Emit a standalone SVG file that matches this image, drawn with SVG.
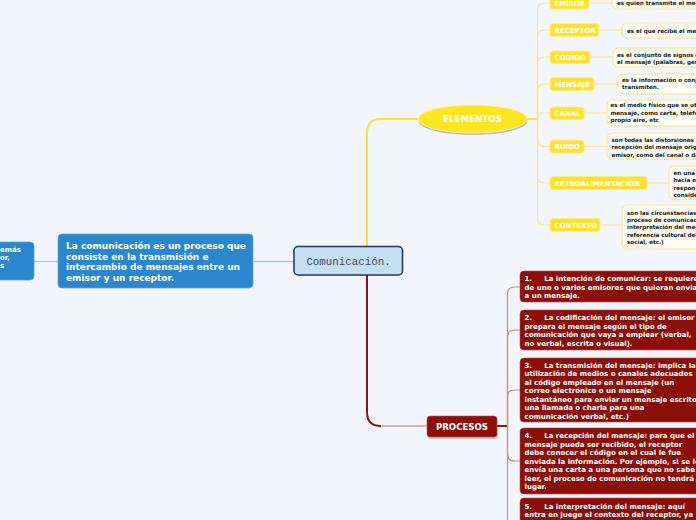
<svg xmlns="http://www.w3.org/2000/svg" width="696" height="520" viewBox="0 0 696 520">
<style>
.bg{fill:#f2f5fc}
.blue{fill:#2b87cd;stroke:#5aa3dc;stroke-width:0.8}
.btxt{font-family:"DejaVu Sans",Verdana,sans-serif;font-weight:bold;fill:#fff}
.lbl{fill:#ffe12b;stroke:#fcec8c;stroke-width:1}
.ltxt{font-family:"DejaVu Sans",Verdana,sans-serif;font-weight:bold;font-size:7px;fill:#fff}
.desc{fill:#fbfbf1;stroke:#f8e58c;stroke-width:1}
.dtxt{font-family:"DejaVu Sans",Verdana,sans-serif;font-weight:bold;font-size:5.6px;fill:#222}
.proc{fill:#8b0e09;stroke:#b94a4a;stroke-width:0.6}
.ptxt{font-family:"DejaVu Sans",Verdana,sans-serif;font-weight:bold;font-size:7px;fill:#fff}
.ylw{fill:none;stroke:#fbe88e;stroke-width:1.2}
.red{fill:none;stroke:#cf8a8a;stroke-width:1.2}
</style>
<rect class="bg" x="0" y="0" width="696" height="520"/>

<g id="connectors">
  <line x1="34" y1="261.5" x2="58" y2="261.5" stroke="#a8c8e8" stroke-width="1.3"/>
  <line x1="253" y1="261.5" x2="294" y2="261.5" stroke="#a8c8e8" stroke-width="1.3"/>
  <path d="M367 247 V133 Q367 119 381 119 H418" fill="none" stroke="#fde12b" stroke-width="2"/>
  <line x1="527" y1="119" x2="538" y2="119" stroke="#fde12b" stroke-width="2"/>
  <path class="ylw" d="M537.5 119 V10 Q537.5 3 544.5 3 H550"/>
  <path class="ylw" d="M537.5 119 V37 Q537.5 30 544.5 30 H550"/>
  <path class="ylw" d="M537.5 119 V64 Q537.5 57 544.5 57 H550"/>
  <path class="ylw" d="M537.5 119 V91 Q537.5 84 544.5 84 H550"/>
  <path class="ylw" d="M537.5 119 V117 Q537.5 113 541.5 113 H550"/>
  <path class="ylw" d="M537.5 119 V139.5 Q537.5 146.5 544.5 146.5 H550"/>
  <path class="ylw" d="M537.5 119 V176 Q537.5 183 544.5 183 H550"/>
  <path class="ylw" d="M537.5 119 V218 Q537.5 225 544.5 225 H550"/>
  <line class="ylw" x1="589" y1="3" x2="612" y2="3"/>
  <line class="ylw" x1="599" y1="30" x2="622" y2="30"/>
  <line class="ylw" x1="590" y1="57" x2="613" y2="57"/>
  <line class="ylw" x1="594" y1="84" x2="618" y2="84"/>
  <line class="ylw" x1="584" y1="113" x2="607" y2="113"/>
  <line class="ylw" x1="584" y1="146.5" x2="607" y2="146.5"/>
  <line class="ylw" x1="647" y1="183" x2="669" y2="183"/>
  <line class="ylw" x1="600" y1="225" x2="622" y2="225"/>
  <path d="M367 275 V412 Q367 426 381 426" fill="none" stroke="#8b1414" stroke-width="2"/>
  <line x1="381" y1="426" x2="427" y2="426" stroke="#d49a9a" stroke-width="1.3"/>
  <line x1="497" y1="426" x2="508" y2="426" stroke="#8b1414" stroke-width="2"/>
  <path class="red" d="M507.5 426 V294 Q507.5 287 514.5 287 H520"/>
  <path class="red" d="M507.5 426 V337 Q507.5 330 514.5 330 H520"/>
  <path class="red" d="M507.5 426 V397 Q507.5 390 514.5 390 H520"/>
  <path class="red" d="M507.5 426 V454 Q507.5 461 514.5 461 H520"/>
  <path class="red" d="M507.5 426 V520"/>
</g>

<g id="node-left">
  <rect class="blue" x="-10" y="242" width="44" height="38" rx="4"/>
  <text class="btxt" font-size="7px" x="0" y="252">emás</text>
  <text class="btxt" font-size="7px" x="0" y="260">or,</text>
  <text class="btxt" font-size="7px" x="0" y="268">s</text>
</g>

<g id="node-definicion">
  <rect class="blue" x="58" y="234" width="195" height="54" rx="4"/>
  <text class="btxt" font-size="9px" x="66" y="249">La comunicación es un proceso que</text>
  <text class="btxt" font-size="9px" x="66" y="259.5">consiste en la transmisión e</text>
  <text class="btxt" font-size="9px" x="66" y="270">intercambio de mensajes entre un</text>
  <text class="btxt" font-size="9px" x="66" y="280.5">emisor y un receptor.</text>
</g>

<g id="node-comunicacion">
  <rect x="294" y="246.5" width="108.5" height="28.5" rx="4" fill="#c5dff2" stroke="#1f3658" stroke-width="1.5"/>
  <text x="348.5" y="264.5" text-anchor="middle" font-family="'Liberation Mono','Courier New',monospace" font-size="10.8px" fill="#3c4a5c">Comunicación.</text>
</g>

<g id="node-elementos">
  <ellipse cx="473" cy="121" rx="54.5" ry="14" fill="#9a9a9a" opacity="0.6"/>
  <ellipse cx="472.5" cy="119" rx="54.5" ry="14" fill="#fde51f" stroke="#fff6a8" stroke-width="0.8"/>
  <text x="472.5" y="122" text-anchor="middle" class="btxt" font-size="8.7px">ELEMENTOS</text>
</g>

<g id="node-emisor">
  <rect class="lbl" x="550" y="-3" width="39" height="12" rx="3"/>
  <text class="ltxt" x="554.5" y="6">EMISOR</text>
  <rect class="desc" x="612" y="-6" width="100" height="15" rx="5"/>
  <text class="dtxt" x="617" y="5">es quien transmite el mensaje</text>
</g>
<g id="node-receptor">
  <rect class="lbl" x="550" y="23.5" width="49" height="13" rx="3"/>
  <text class="ltxt" x="554.5" y="32.5">RECEPTOR</text>
  <rect class="desc" x="622" y="23" width="90" height="15" rx="5"/>
  <text class="dtxt" x="627" y="32.5">es el que recibe el mensaje</text>
</g>
<g id="node-codigo">
  <rect class="lbl" x="550" y="51" width="40" height="12.5" rx="3"/>
  <text class="ltxt" x="554.5" y="60">CODIGO</text>
  <rect class="desc" x="613" y="48" width="100" height="19" rx="5"/>
  <text class="dtxt" x="617" y="56.5">es el conjunto de signos con</text>
  <text class="dtxt" x="617" y="63.5">el mensaje (palabras, gestos</text>
</g>
<g id="node-mensaje">
  <rect class="lbl" x="550" y="77.5" width="44" height="13" rx="3"/>
  <text class="ltxt" x="554.5" y="86.5">MENSAJE</text>
  <rect class="desc" x="618" y="74" width="95" height="20" rx="5"/>
  <text class="dtxt" x="622" y="82">es la información o conjunto</text>
  <text class="dtxt" x="622" y="89">transmiten.</text>
</g>
<g id="node-canal">
  <rect class="lbl" x="550" y="107" width="34" height="12.5" rx="3"/>
  <text class="ltxt" x="554.5" y="116">CANAL</text>
  <rect class="desc" x="607" y="100" width="100" height="26" rx="5"/>
  <text class="dtxt" x="610.5" y="107">es el medio físico que se utiliza</text>
  <text class="dtxt" x="610.5" y="114.5">mensaje, como carta, teléfono</text>
  <text class="dtxt" x="610.5" y="122">propio aire, etc</text>
</g>
<g id="node-ruido">
  <rect class="lbl" x="550" y="140" width="34" height="13" rx="3"/>
  <text class="ltxt" x="554.5" y="149">RUIDO</text>
  <rect class="desc" x="607" y="133" width="100" height="26" rx="5"/>
  <text class="dtxt" x="611.5" y="141.5">son todas las distorsiones que</text>
  <text class="dtxt" x="611.5" y="149">recepción del mensaje original</text>
  <text class="dtxt" x="611.5" y="156.5">emisor, como del canal o del</text>
</g>
<g id="node-retroalimentacion">
  <rect class="lbl" x="550" y="176.5" width="97" height="13" rx="3"/>
  <text class="ltxt" x="554.5" y="185.5">RETROALIMENTACIÓN</text>
  <rect class="desc" x="669" y="166" width="40" height="33" rx="5"/>
  <text class="dtxt" x="673.5" y="174.5">en una</text>
  <text class="dtxt" x="673.5" y="182">hacia el</text>
  <text class="dtxt" x="673.5" y="189.5">respon</text>
  <text class="dtxt" x="673.5" y="197">conside</text>
</g>
<g id="node-contexto">
  <rect class="lbl" x="550" y="218.5" width="50" height="13" rx="3"/>
  <text class="ltxt" x="554.5" y="227.5">CONTEXTO</text>
  <rect class="desc" x="622" y="205" width="90" height="44" rx="5"/>
  <text class="dtxt" x="627" y="214.5">son las circunstancias</text>
  <text class="dtxt" x="627" y="221.5">proceso de comunicación</text>
  <text class="dtxt" x="627" y="229">interpretación del mensaje</text>
  <text class="dtxt" x="627" y="236.5">referencia cultural del</text>
  <text class="dtxt" x="627" y="243.5">social, etc.)</text>
</g>

<g id="node-procesos">
  <rect x="428" y="418" width="70" height="21" rx="3" fill="#9a9a9a" opacity="0.5"/>
  <rect x="427" y="416" width="70" height="21" rx="3" fill="#8b0e09" stroke="#c25858" stroke-width="0.6"/>
  <text x="462" y="429.5" text-anchor="middle" class="btxt" font-size="8.6px">PROCESOS</text>
</g>

<g id="node-proc1">
  <rect class="proc" x="520" y="271" width="200" height="31" rx="4"/>
  <text class="ptxt" x="524.5" y="281" xml:space="preserve">1.     La intención de comunicar: se requiere</text>
  <text class="ptxt" x="524.5" y="289.5">de uno o varios emisores que quieran enviar</text>
  <text class="ptxt" x="524.5" y="298">a un mensaje.</text>
</g>
<g id="node-proc2">
  <rect class="proc" x="520" y="310" width="200" height="40" rx="4"/>
  <text class="ptxt" x="524.5" y="320" xml:space="preserve">2.     La codificación del mensaje: el emisor</text>
  <text class="ptxt" x="524.5" y="328.5">prepara el mensaje según el tipo de</text>
  <text class="ptxt" x="524.5" y="337">comunicación que vaya a emplear (verbal,</text>
  <text class="ptxt" x="524.5" y="345.5">no verbal, escrita o visual).</text>
</g>
<g id="node-proc3">
  <rect class="proc" x="520" y="358" width="200" height="64" rx="4"/>
  <text class="ptxt" x="524.5" y="367.5" xml:space="preserve">3.     La transmisión del mensaje: implica la</text>
  <text class="ptxt" x="524.5" y="376">utilización de medios o canales adecuados</text>
  <text class="ptxt" x="524.5" y="384.5">al código empleado en el mensaje (un</text>
  <text class="ptxt" x="524.5" y="393">correo electrónico o un mensaje</text>
  <text class="ptxt" x="524.5" y="401.5">instantáneo para enviar un mensaje escrito o</text>
  <text class="ptxt" x="524.5" y="410">una llamada o charla para una</text>
  <text class="ptxt" x="524.5" y="418.5">comunicación verbal, etc.)</text>
</g>
<g id="node-proc4">
  <rect class="proc" x="520" y="428" width="200" height="66" rx="4"/>
  <text class="ptxt" x="524.5" y="438" xml:space="preserve">4.     La recepción del mensaje: para que el</text>
  <text class="ptxt" x="524.5" y="446.5">mensaje pueda ser recibido, el receptor</text>
  <text class="ptxt" x="524.5" y="455">debe conocer el código en el cual le fue</text>
  <text class="ptxt" x="524.5" y="463.5">enviada la información. Por ejemplo, si se le</text>
  <text class="ptxt" x="524.5" y="472">envía una carta a una persona que no sabe</text>
  <text class="ptxt" x="524.5" y="480.5">leer, el proceso de comunicación no tendrá</text>
  <text class="ptxt" x="524.5" y="489">lugar.</text>
</g>
<g id="node-proc5">
  <rect class="proc" x="520" y="498" width="200" height="40" rx="4"/>
  <text class="ptxt" x="524.5" y="508.5" xml:space="preserve">5.     La interpretación del mensaje: aquí</text>
  <text class="ptxt" x="524.5" y="517">entra en juego el contexto del receptor, ya</text>
</g>
</svg>
